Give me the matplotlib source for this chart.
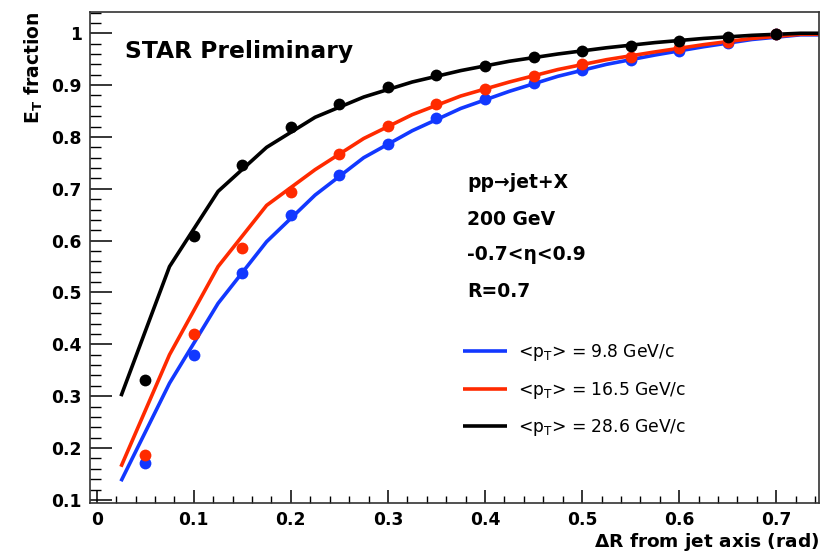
import matplotlib
matplotlib.use("Agg")
import matplotlib.pyplot as plt
from matplotlib.ticker import MultipleLocator, FuncFormatter

plt.rcParams['font.family'] = ['DejaVu Sans']
plt.rcParams['mathtext.fontset'] = 'dejavusans'

# ---- data ----
dr_points = [0.05, 0.10, 0.15, 0.20, 0.25, 0.30, 0.35, 0.40, 0.45, 0.50, 0.55, 0.60, 0.65, 0.70]
pts_98 = [0.172, 0.380, 0.537, 0.650, 0.727, 0.787, 0.836, 0.873, 0.904, 0.929, 0.949, 0.966, 0.981, 0.998]
pts_165 = [0.187, 0.420, 0.585, 0.693, 0.767, 0.821, 0.864, 0.892, 0.918, 0.941, 0.955, 0.971, 0.984, 0.998]
pts_286 = [0.331, 0.609, 0.746, 0.820, 0.864, 0.896, 0.920, 0.937, 0.954, 0.966, 0.976, 0.986, 0.993, 0.999]

dr_curve = [0.025, 0.075, 0.125, 0.175, 0.225, 0.275, 0.325, 0.375, 0.425, 0.475,
            0.525, 0.575, 0.625, 0.675, 0.725, 0.745]
curve_98 = [0.136, 0.325, 0.479, 0.598, 0.688, 0.760, 0.812, 0.855, 0.888, 0.917,
            0.940, 0.958, 0.974, 0.988, 0.997, 0.997]
curve_165 = [0.164, 0.380, 0.550, 0.668, 0.737, 0.797, 0.843, 0.879, 0.906, 0.930,
             0.949, 0.964, 0.978, 0.990, 0.998, 0.998]
curve_286 = [0.300, 0.550, 0.695, 0.780, 0.838, 0.877, 0.906, 0.928, 0.946, 0.960,
             0.972, 0.982, 0.990, 0.996, 1.000, 1.000]

labels = [r'<p$_\mathrm{T}$> = 9.8 GeV/c', r'<p$_\mathrm{T}$> = 16.5 GeV/c', r'<p$_\mathrm{T}$> = 28.6 GeV/c']
colors = ['#1238ff', '#ff2a00', '#000000']

fig = plt.figure(figsize=(8.33, 5.58), dpi=100)
ax = fig.add_axes([90/833, 55/558, 729/833, 491/558])

handles = []
for c, p, col, lab in zip([curve_98, curve_165, curve_286], [pts_98, pts_165, pts_286], colors, labels):
    h, = ax.plot(dr_curve, c, color=col, lw=2.6, label=lab, solid_capstyle='butt', zorder=2)
    ax.plot(dr_points, p, 'o', color=col, ms=8.5, mew=0, zorder=3)
    handles.append(h)

ax.set_xlim(-0.0069, 0.744)
ax.set_ylim(0.094, 1.041)

ax.xaxis.set_major_locator(MultipleLocator(0.1))
ax.xaxis.set_minor_locator(MultipleLocator(0.02))
ax.yaxis.set_major_locator(MultipleLocator(0.1))
ax.yaxis.set_minor_locator(MultipleLocator(0.02))

def fmt(v, pos):
    if abs(v) < 1e-9:
        return '0'
    if abs(v - 1) < 1e-9:
        return '1'
    return '%.1f' % v
ax.xaxis.set_major_formatter(FuncFormatter(fmt))
ax.yaxis.set_major_formatter(FuncFormatter(fmt))

ax.tick_params(axis='x', which='major', direction='in', length=9.5, width=1.1, pad=5.5,
               labelsize=12.3, top=False)
ax.tick_params(axis='x', which='minor', direction='in', length=5, width=1.0, top=False)
ax.tick_params(axis='y', which='major', direction='in', length=16, width=1.1, pad=6,
               labelsize=12.3, right=False)
ax.tick_params(axis='y', which='minor', direction='in', length=8, width=1.0, right=False)
for lab in ax.get_xticklabels() + ax.get_yticklabels():
    lab.set_fontweight('bold')

for s in ax.spines.values():
    s.set_color('#333333')
    s.set_linewidth(1.2)

ax.set_xlabel(r'$\mathbf{\Delta}$R from jet axis (rad)', fontsize=13.3, fontweight='bold', loc='right')
ax.xaxis.set_label_coords(1.0, -0.058)
ax.set_ylabel(r'E$_\mathbf{T}$ fraction', fontsize=13.5, fontweight='bold', loc='top')
ax.yaxis.set_label_coords(-0.062, 1.0)

ax.text(0.048, 0.906, 'STAR Preliminary', transform=ax.transAxes, fontsize=16.8,
        fontweight='bold', va='baseline', ha='left')

info = ['pp\u2192jet+X', '200 GeV', '-0.7<\u03b7<0.9', 'R=0.7']
info_y = [0.6415, 0.566, 0.495, 0.4196]
for t, y in zip(info, info_y):
    ax.text(0.517, y, t, transform=ax.transAxes, fontsize=13.5, fontweight='bold',
            va='baseline', ha='left')

ax.legend(handles=handles, loc='upper left', bbox_to_anchor=(0.5117, 0.327), frameon=False,
          fontsize=12.3, handlelength=2.6, handletextpad=0.6, borderpad=0, borderaxespad=0,
          labelspacing=0.96)

fig.savefig('out.png', dpi=100)
